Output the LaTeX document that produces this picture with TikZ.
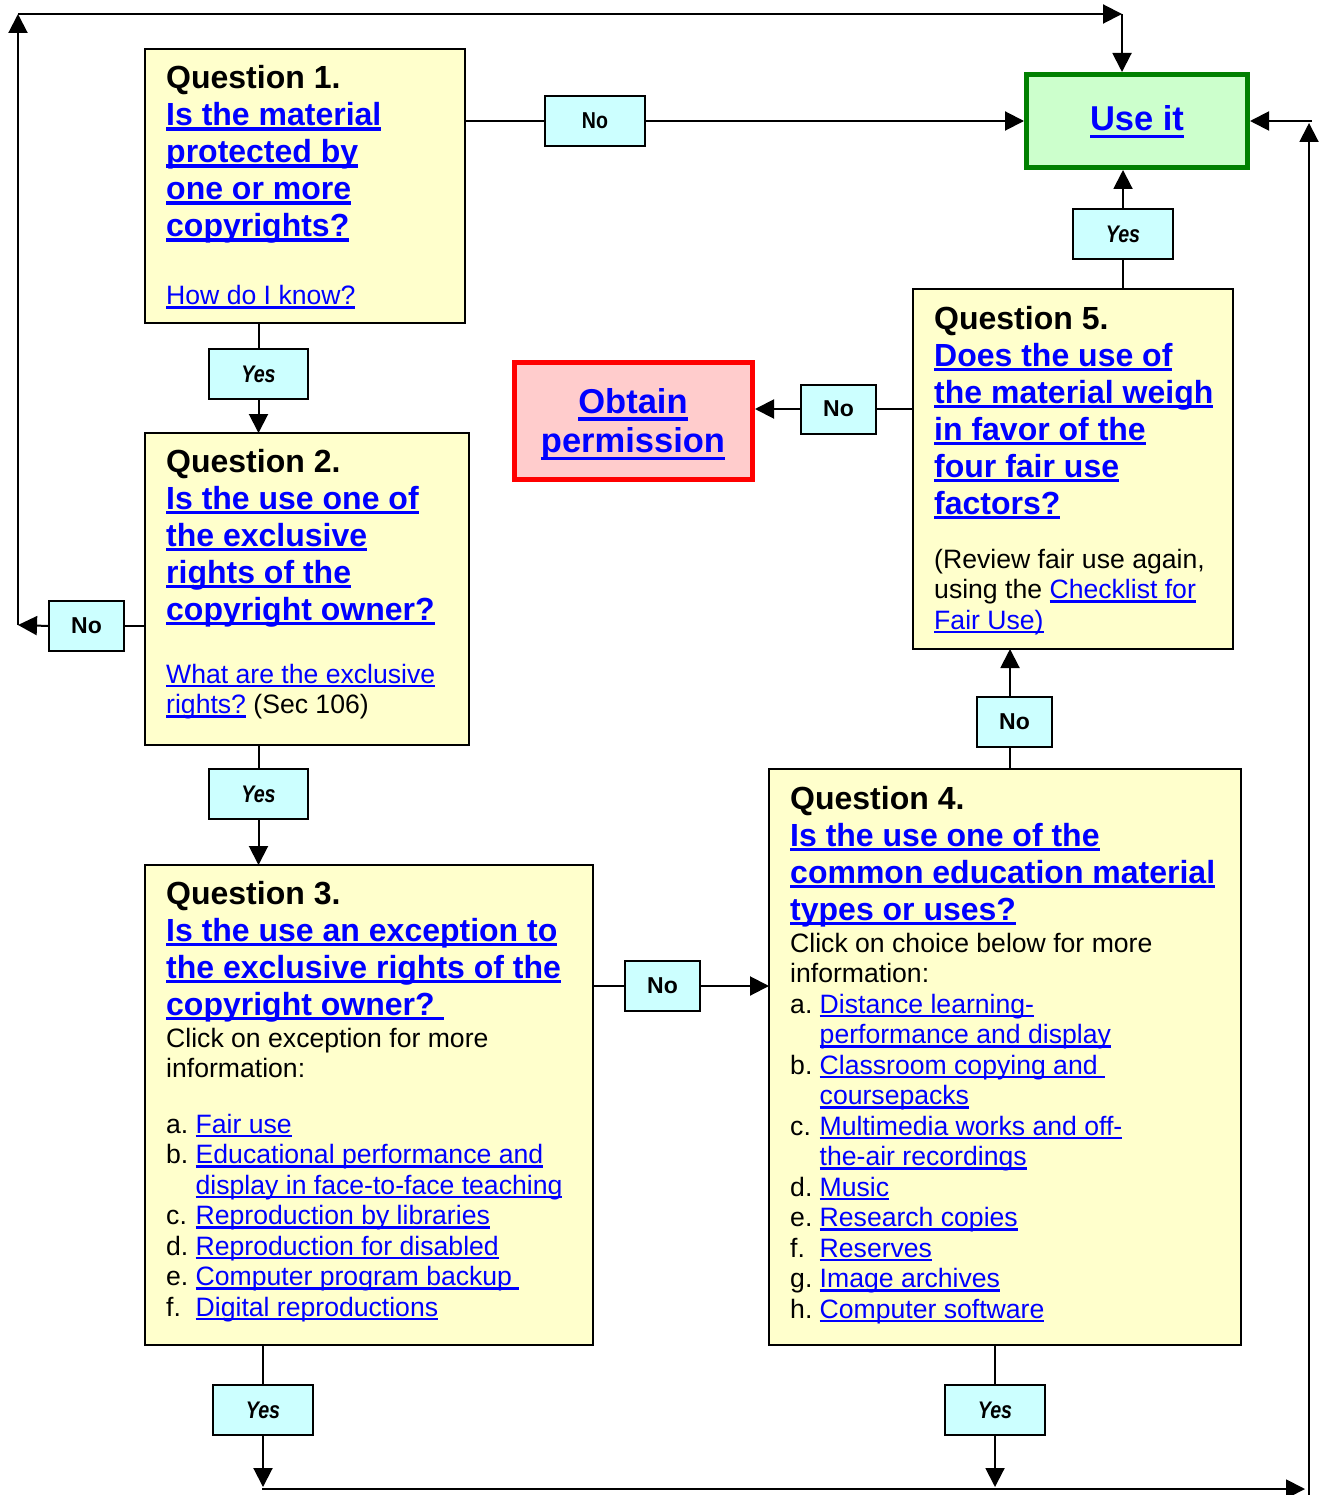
\documentclass[tikz,border=0pt]{standalone}
\usepackage{fontspec}
\setmainfont{Liberation Sans}
\usetikzlibrary{arrows.meta}
\definecolor{qyel}{HTML}{FFFFCC}
\definecolor{lcyan}{HTML}{CCFFFF}
\definecolor{ugreenf}{HTML}{CCFFCC}
\definecolor{ugreen}{HTML}{008000}
\definecolor{obtf}{HTML}{FFCCCC}
\definecolor{obtr}{HTML}{FF0000}
\definecolor{lnkblue}{HTML}{0000FF}
\newlength\lkd \newlength\lkt
\newcommand{\blk}[1]{\leavevmode{\color{lnkblue}\setbox0=\hbox{#1}\rlap{\vrule width \wd0 height -\lkd depth \dimexpr\lkd+\lkt\relax}\box0}}
\newcommand{\hfont}{\fontsize{32}{37}\selectfont\bfseries\lkd=1.5pt\lkt=3.5pt\lineskiplimit=-100pt}
\newcommand{\rfont}{\fontsize{26.6}{30.5}\selectfont\lkd=1.5pt\lkt=2.5pt\lineskiplimit=-100pt}
\newcommand{\bigfont}{\fontsize{34.5}{39.5}\selectfont\bfseries\lkd=4pt\lkt=3.5pt\lineskiplimit=-100pt}
\newcommand{\itm}[2]{\makebox[29.5pt][l]{#1}\blk{#2}}
\newcommand{\itc}[1]{\hspace*{29.5pt}\blk{#1}}
\newcommand{\yes}{\scalebox{0.82}[1]{\fontsize{24}{26}\selectfont\bfseries\itshape Yes}}
\tikzset{
  qbox/.style={draw, line width=2pt, fill=qyel, anchor=north west, inner sep=0, outer sep=0},
  lab/.style={draw, line width=2pt, fill=lcyan, inner sep=0, outer sep=0, font=\fontsize{23}{26}\selectfont\bfseries},
  txt/.style={anchor=base west, inner sep=0},
  conn/.style={line width=2pt},
  arr/.style={line width=2pt, -{Triangle[length=19pt,width=19pt]}}
}
\begin{document}
\begin{tikzpicture}[x=1pt,y=-1pt]
\useasboundingbox (0,0) rectangle (1320,1495);
% boxes
\node[qbox, minimum width=320pt, minimum height=274pt] (q1) at (145,49) {};
\node[qbox, minimum width=324pt, minimum height=312pt] (q2) at (145,433) {};
\node[qbox, minimum width=448pt, minimum height=480pt] (q3) at (145,865) {};
\node[qbox, minimum width=472pt, minimum height=576pt] (q4) at (769,769) {};
\node[qbox, minimum width=320pt, minimum height=360pt] (q5) at (913,289) {};
\node[draw=ugreen, line width=5pt, fill=ugreenf, anchor=north west, inner sep=0,
      minimum width=221pt, minimum height=93pt] (use) at (1024,72) {};
\node[draw=obtr, line width=5pt, fill=obtf, anchor=north west, inner sep=0,
      minimum width=238pt, minimum height=117pt] (obt) at (512,360) {};
% labels
\node[lab, minimum width=100pt, minimum height=50pt] (n1) at (595,121) {\scalebox{0.85}[1]{No}};
\node[lab, minimum width=100pt, minimum height=50pt] (y5) at (1123,234) {\yes};
\node[lab, minimum width=75pt, minimum height=49pt] (n5) at (838.5,409) {No};
\node[lab, minimum width=99pt, minimum height=50pt] (y1) at (258.5,374) {\yes};
\node[lab, minimum width=75pt, minimum height=50pt] (n2) at (86.5,626) {No};
\node[lab, minimum width=99pt, minimum height=50pt] (y2) at (258.5,794) {\yes};
\node[lab, minimum width=75pt, minimum height=50pt] (n3) at (662.5,986) {No};
\node[lab, minimum width=75pt, minimum height=50pt] (n4) at (1014.5,722) {No};
\node[lab, minimum width=100pt, minimum height=50pt] (y3) at (263,1410) {\yes};
\node[lab, minimum width=100pt, minimum height=50pt] (y4) at (995,1410) {\yes};
% coordinates
\coordinate (lft) at (18,625);
\coordinate (tl) at (18,14);
\coordinate (tr) at (1122,14);
\coordinate (c4) at (1010,0);
\coordinate (b1) at (262,1487);
\coordinate (b2) at (994,1487);
\coordinate (bl) at (262,1489);
\coordinate (br) at (1305,1489);
\coordinate (rb) at (1309,1495);
\coordinate (rt) at (1309,123);
\coordinate (rr) at (1312,121);
% connectors
\draw[conn] (q1.east |- n1) -- (n1.west);
\draw[arr] (n1.east) -- (n1.east -| use.west);
\draw[arr] (n2.west) -- (lft);
\draw[conn] (q2.west |- n2) -- (n2.east);
\draw[arr] (lft) -- (tl);
\draw[arr] (tl) -- (tr);
\draw[arr] (tr) -- (tr |- use.north);
\draw[conn] (y1.north |- q1.south) -- (y1.north);
\draw[arr] (y1.south) -- (y1.south |- q2.north);
\draw[conn] (y2.north |- q2.south) -- (y2.north);
\draw[arr] (y2.south) -- (y2.south |- q3.north);
\draw[conn] (q3.east |- n3) -- (n3.west);
\draw[arr] (n3.east) -- (n3.east -| q4.west);
\draw[conn] (c4 |- q4.north) -- (c4 |- n4.south);
\draw[arr] (c4 |- n4.north) -- (c4 |- q5.south);
\draw[conn] (y5.south |- q5.north) -- (y5.south);
\draw[arr] (y5.north) -- (y5.north |- use.south);
\draw[conn] (q5.west |- n5) -- (n5.east);
\draw[arr] (n5.west) -- (n5.west -| obt.east);
\draw[conn] (y3.north |- q3.south) -- (y3.north);
\draw[arr] (y3.south) -- (y3.south |- b1);
\draw[conn] (y4.north |- q4.south) -- (y4.north);
\draw[arr] (y4.south) -- (y4.south |- b2);
\draw[arr] (bl) -- (br);
\draw[arr] (rb) -- (rt);
\draw[arr] (rr) -- (rr -| use.east);
% texts
\node[txt] (q1h) at (166,89) {\parbox[t]{300pt}{\hfont Question 1.\\ \blk{Is the material}\\ \blk{protected by}\\ \blk{one or more}\\ \blk{copyrights?}}};
\node[txt] (q1r) at (166,305) {\parbox[t]{300pt}{\rfont \blk{How do I know?}}};
\node[txt] (q2h) at (166,472) {\parbox[t]{300pt}{\hfont Question 2.\\ \blk{Is the use one of}\\ \blk{the exclusive}\\ \blk{rights of the}\\ \blk{copyright owner?}}};
\node[txt] (q2r) at (166,683) {\parbox[t]{300pt}{\rfont \blk{What are the exclusive}\\ \blk{rights?} (Sec 106)}};
\node[txt] (q3h) at (166,904) {\parbox[t]{420pt}{\hfont Question 3.\\ \blk{Is the use an exception to}\\ \blk{the exclusive rights of the}\\ \blk{copyright owner?\ }}};
\node[txt] (q3r) at (166,1047) {\parbox[t]{420pt}{\rfont Click on exception for more\\ information:}};
\node[txt] (q3l) at (166,1133) {\parbox[t]{420pt}{\rfont \itm{a.}{Fair use}\\ \itm{b.}{Educational performance and}\\ \itc{display in face-to-face teaching}\\ \itm{c.}{Reproduction by libraries}\\ \itm{d.}{Reproduction for disabled}\\ \itm{e.}{Computer program backup\ }\\ \itm{f.}{Digital reproductions}}};
\node[txt] (q4h) at (790,809) {\parbox[t]{440pt}{\hfont Question 4.\\ \blk{Is the use one of the}\\ \blk{common education material}\\ \blk{types or uses?}}};
\node[txt] (q4r) at (790,952) {\parbox[t]{440pt}{\rfont Click on choice below for more\\ information:\\ \itm{a.}{Distance learning-}\\ \itc{performance and display}\\ \itm{b.}{Classroom copying and\ }\\ \itc{coursepacks}\\ \itm{c.}{Multimedia works and off-}\\ \itc{the-air recordings}\\ \itm{d.}{Music}\\ \itm{e.}{Research copies}\\ \itm{f.}{Reserves}\\ \itm{g.}{Image archives}\\ \itm{h.}{Computer software}}};
\node[txt] (q5h) at (934,329) {\parbox[t]{300pt}{\hfont Question 5.\\ \blk{Does the use of}\\ \blk{the material weigh}\\ \blk{in favor of the}\\ \blk{four fair use}\\ \blk{factors?}}};
\node[txt] (q5r) at (934,568) {\parbox[t]{300pt}{\rfont (Review fair use again,\\ using the \blk{Checklist for}\\ \blk{Fair Use)}}};
\node[anchor=base, inner sep=0] (uset) at (1137,131) {\bigfont\blk{Use it}};
\node[anchor=base, inner sep=0] (obtt) at (633,413) {\parbox[t]{240pt}{\centering\bigfont \blk{Obtain}\\ \blk{permission}}};
\end{tikzpicture}
\end{document}
